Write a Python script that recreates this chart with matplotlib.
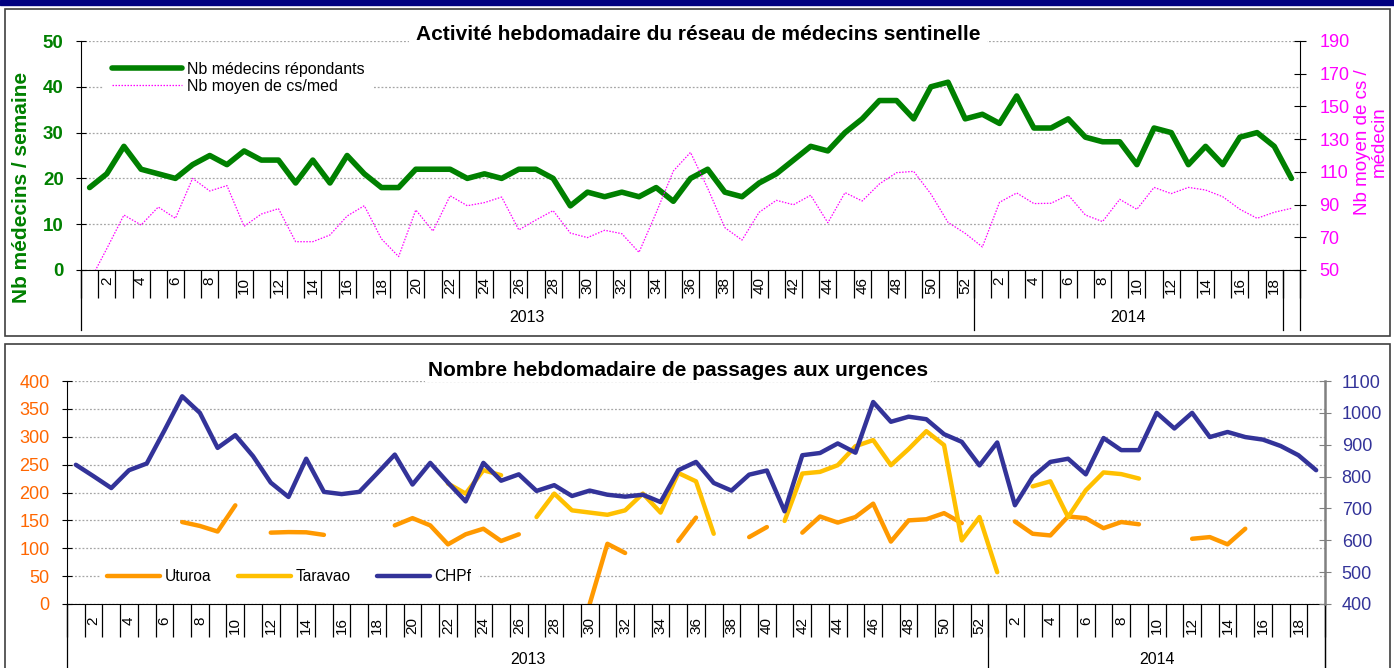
import numpy as np
import matplotlib
matplotlib.use("Agg")
import matplotlib.pyplot as plt
from matplotlib.patches import Rectangle
from matplotlib.transforms import blended_transform_factory

plt.rcParams['font.family'] = ['Liberation Sans', 'DejaVu Sans']

N = None
# ---------------- data ----------------
weeks_2013 = list(range(1, 53))
weeks_2014 = list(range(1, 20))
week_labels = [str(w) for w in weeks_2013 + weeks_2014]
years = ["2013", "2014"]

nb_medecins = [18, 21, 27, 22, 21, 20, 23, 25, 23, 26, 24, 24, 19, 24, 19, 25, 21, 18, 18, 22,
               22, 22, 20, 21, 20, 22, 22, 20, 14, 17, 16, 17, 16, 18, 15, 20, 22, 17, 16, 19,
               21, 24, 27, 26, 30, 33, 37, 37, 33, 40, 41, 33,
               34, 32, 38, 31, 31, 33, 29, 28, 28, 23, 31, 30, 23, 27, 23, 29, 30, 27, 20]
nb_cs_med = [43, 63, 83.6, 77.5, 88.5, 81.6, 106, 98.3, 101.6, 76.7, 84.2, 87.5, 67.3, 67.3, 71.4,
             83, 89.3, 69, 58.2, 86.7, 73.8, 95.4, 89.3, 91.2, 94.6, 74.5, 80.6, 86.3, 72.6, 69.8,
             74.3, 72.2, 60.8, 85, 110.5, 121.9, 100, 75.9, 68.3, 85.3, 92.6, 89.9, 95.7, 78.9,
             97.3, 92.2, 102.6, 109.5, 110.3, 96.5, 79.1, 72.4,
             64.1, 91.4, 97.1, 90.6, 90.8, 95.9, 83.6, 79.6, 93.2, 87.1, 100.5, 96.7, 100.5, 98.9,
             94.8, 87.1, 81.6, 85.3, 87.7]

uturoa = [N, N, N, N, N, N, 147, 140, 130, 177, N, 128, 129, 128.6, 124, N, N, N, 141, 154,
          141, 107, 125, 135, 113, 125, N, N, N, 0, 108, 91.5, N, N, 113, 155, N, N, 120, 138,
          N, 128, 157, 146, 156, 180, 112, 150, 152, 163, 145, N,
          N, 148, 126, 123, 157, 154, 136, 147, 143, N, N, 117, 120, 107, 135, N, N, N, N]
taravao = [N, N, N, N, N, N, N, N, N, N, N, N, N, N, N, N, N, N, N, N,
           N, 216, 198, 240, 231, N, 156, 198, 168, 164, 160, 168, 198, 164, 235, 220, 126, N, N, N,
           149, 234, 237, 249, 283, 294, 249, 278, 310, 285, 114, 156,
           57, N, 211, 220, 156, 204, 236, 233, 225, N, N, N, N, N, N, N, N, N, N]
chpf = [837, 801, 764, 820, 841, 945, 1052, 1000, 890, 930, 864, 781, 736, 856, 752, 745, 752,
        810, 869, 775, 843, 781, 722, 843, 787, 807, 755, 773, 739, 756, 743, 737, 743, 720, 820,
        846, 780, 756, 806, 819, 691, 867, 874, 904, 875, 1034, 972, 988, 980, 933, 909, 835,
        907, 710, 799, 846, 856, 807, 921, 883, 883, 1000, 951, 1000, 924, 940, 924, 916, 896,
        867, 820]

def arr(v):
    return np.array([np.nan if a is None else a for a in v], dtype=float)

x = np.arange(len(week_labels))
n2013 = len(weeks_2013)

W, H = 1394, 668
fig = plt.figure(figsize=(W / 100, H / 100), dpi=100)

GREEN = '#008000'
MAG = '#FF00FF'
ORANGE = '#FF9900'
GOLD = '#FFC000'
NAVY = '#333399'
GRID = '#A6A6A6'

# decorations
fig.patches.append(Rectangle((0, 1 - 4.5 / H), 1, 4.5 / H, transform=fig.transFigure,
                             color='#000080', zorder=0))
fig.patches.append(Rectangle((5 / W, 1 - 336 / H), 1385 / W, 327 / H, transform=fig.transFigure,
                             fill=False, ec='#404040', lw=1.2, zorder=0))
fig.patches.append(Rectangle((5 / W, 1 - 672 / H), 1385 / W, 328 / H, transform=fig.transFigure,
                             fill=False, ec='#404040', lw=1.2, zorder=0))


def setup_xaxis(ax, tick_len, pad, line_bottom, group_ends, year_y):
    ax.set_xlim(-0.5, len(x) - 0.5)
    major = x[1::2]
    ax.set_xticks(major)
    ax.set_xticklabels([week_labels[i] for i in major])
    ax.set_xticks(np.arange(-0.5, len(x), 1), minor=True)
    ax.tick_params(axis='x', which='major', length=0, pad=pad, labelsize=11, rotation=90)
    ax.tick_params(axis='x', which='minor', length=tick_len, direction='out', width=0.9)
    tr = blended_transform_factory(ax.transData, ax.transAxes)
    for b in group_ends:
        ax.plot([b, b], [0, line_bottom], transform=tr, color='black', lw=0.9, clip_on=False)
    ax.text((-0.5 + n2013 - 0.5) / 2, year_y, years[0], transform=tr, ha='center', va='center',
            fontsize=11.5)
    ax.text((n2013 - 0.5 + group_ends[2]) / 2, year_y, years[1], transform=tr, ha='center',
            va='center', fontsize=11.5)


# ---------------- top chart ----------------
ax1 = fig.add_axes([81 / W, 1 - 270 / H, 1219 / W, 229 / H])
ax1r = ax1.twinx()
ax1.set_ylim(0, 50)
ax1.set_yticks(np.arange(0, 51, 10))
ax1r.set_ylim(50, 190)
ax1r.set_yticks(np.arange(50, 191, 20))
ax1.yaxis.grid(True, linestyle=(0, (1.5, 1.5)), color=GRID, lw=0.9)
ax1.set_axisbelow(True)
for s in ['top', 'right']:
    ax1.spines[s].set_visible(False)
for s in ['top', 'left', 'bottom']:
    ax1r.spines[s].set_visible(False)
ax1r.spines['right'].set_color('black')
ax1.tick_params(axis='y', direction='inout', length=7, pad=9, labelsize=13.5,
                labelcolor=GREEN)
for t in ax1.get_yticklabels():
    t.set_fontweight('bold')
ax1r.tick_params(axis='y', direction='inout', length=8, pad=10, labelsize=13, labelcolor=MAG)

l1, = ax1.plot(x, arr(nb_medecins), color=GREEN, lw=4.0, solid_joinstyle='round',
               solid_capstyle='round', label='Nb médecins répondants')
l2, = ax1r.plot(x, arr(nb_cs_med), color=MAG, lw=0.9, linestyle=(0, (1.2, 1.2)),
                label='Nb moyen de cs/med')
setup_xaxis(ax1, 28 * 0.72, 5, -60 / 229, [-0.5, n2013 - 0.5, len(x) - 1.5, len(x) - 0.5],
            -48 / 229)

leg1 = ax1r.legend(handles=[l1, l2], loc='upper left',
                   bbox_to_anchor=((104 - 81) / 1219, 1 - (54 - 41) / 229),
                   fontsize=11.5, frameon=True, facecolor='white', edgecolor='none',
                   framealpha=1, fancybox=False, handlelength=4.4, handletextpad=0.3,
                   labelspacing=0.1, borderpad=0.5, borderaxespad=0)

fig.text(22 / W, 1 - 187 / H, 'Nb médecins / semaine', rotation=90, ha='center', va='center',
         color=GREEN, fontsize=15, fontweight='bold')
fig.text(1371 / W, 1 - 142 / H, 'Nb moyen de cs /\nmédecin', rotation=90, ha='center',
         va='center', color=MAG, fontsize=13.5, multialignment='center', linespacing=1.0)
fig.text(698 / W, 1 - 34 / H, 'Activité hebdomadaire du réseau de médecins sentinelle',
         ha='center', va='center', fontsize=15, fontweight='bold',
         bbox=dict(fc='white', ec='none', pad=5))

# ---------------- bottom chart ----------------
ax2 = fig.add_axes([67 / W, 1 - 604 / H, 1258 / W, 223 / H])
ax2r = ax2.twinx()
ax2.set_ylim(0, 400)
ax2.set_yticks(np.arange(0, 401, 50))
ax2r.set_ylim(400, 1100)
ax2r.set_yticks(np.arange(400, 1101, 100))
ax2.yaxis.grid(True, linestyle=(0, (1.5, 1.5)), color=GRID, lw=0.9)
ax2.set_axisbelow(True)
for s in ['top', 'right']:
    ax2.spines[s].set_visible(False)
for s in ['top', 'left', 'bottom']:
    ax2r.spines[s].set_visible(False)
ax2r.spines['right'].set_color('#808080')
ax2r.spines['right'].set_linewidth(1.8)
ax2.tick_params(axis='y', direction='inout', length=7, pad=9, labelsize=13,
                labelcolor='#FF6600')
ax2r.tick_params(axis='y', direction='inout', length=8, pad=8, labelsize=13, labelcolor=NAVY,
                 color='#808080')

lu, = ax2.plot(x, arr(uturoa), color=ORANGE, lw=3.2, solid_joinstyle='round',
               solid_capstyle='round', label='Uturoa')
lt, = ax2.plot(x, arr(taravao), color=GOLD, lw=3.2, solid_joinstyle='round',
               solid_capstyle='round', label='Taravao')
lc, = ax2r.plot(x, arr(chpf), color=NAVY, lw=3.2, solid_joinstyle='round',
                solid_capstyle='round', label='CHPf')
setup_xaxis(ax2, 33 * 0.72, 9, -70 / 223, [-0.5, n2013 - 0.5, len(x) - 0.5, len(x) - 0.5],
            -56 / 223)

leg2 = ax2r.legend(handles=[lu, lt, lc], loc='upper left', ncol=3,
                   bbox_to_anchor=((100 - 67) / 1258, 1 - (562 - 381) / 223),
                   fontsize=11.2, frameon=True, facecolor='white', edgecolor='none',
                   framealpha=1, fancybox=False, handlelength=3.4, handletextpad=0.3,
                   columnspacing=1.7, borderpad=0.45, borderaxespad=0)

fig.text(678 / W, 1 - 370 / H, 'Nombre hebdomadaire de passages aux urgences',
         ha='center', va='center', fontsize=15, fontweight='bold',
         bbox=dict(fc='white', ec='none', pad=2))

fig.savefig('out.png', dpi=100)
